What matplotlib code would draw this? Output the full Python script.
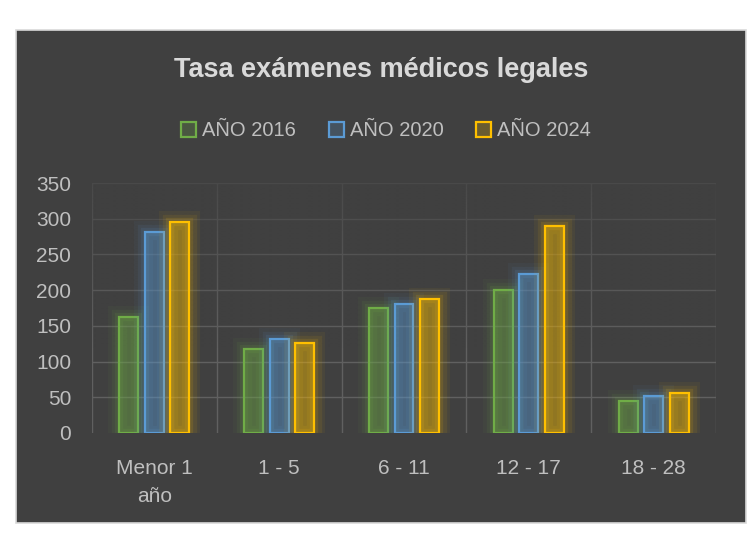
import numpy as np
import matplotlib.pyplot as plt
import matplotlib.patheffects as pe
from matplotlib.patches import Rectangle

# data
categories = ["Menor 1\naño", "1 - 5", "6 - 11", "12 - 17", "18 - 28"]
series_names = ["AÑO 2016", "AÑO 2020", "AÑO 2024"]
vals_2016 = [163, 117, 175, 200, 45]
vals_2020 = [281, 132, 181, 223, 52]
vals_2024 = [296, 126, 188, 290, 56]
colors = ["#70AD47", "#5B9BD5", "#FFC000"]

panel_bg = "#404040"
grid_c = "#606060"
text_c = "#D9D9D9"
tick_c = "#BFBFBF"

plt.rcParams['font.family'] = ['Liberation Sans', 'DejaVu Sans']

W, H = 756, 536
fig = plt.figure(figsize=(W / 100, H / 100), dpi=100, facecolor="white")

# dark chart panel with thin light border
fig.add_artist(Rectangle((16 / W, 1 - 523 / H), 730 / W, 493 / H,
                         transform=fig.transFigure, facecolor=panel_bg,
                         edgecolor="#D9D9D9", linewidth=1.2, zorder=-10))

ax = fig.add_axes([92 / W, 1 - 433 / H, 624 / W, 250 / H])
ax.set_facecolor("none")
ax.set_zorder(1)

x = np.arange(len(categories))
bw = 0.152
step = 0.204
all_vals = [vals_2016, vals_2020, vals_2024]

for i, (vals, c, name) in enumerate(zip(all_vals, colors, series_names)):
    bars = ax.bar(x + (i - 1) * step, vals, width=bw, facecolor=c + "38",
                  edgecolor=c, linewidth=1.6, label=name, zorder=3)
    for b in bars:
        b.set_path_effects([
            pe.Stroke(linewidth=16, foreground=c, alpha=0.05),
            pe.Stroke(linewidth=11, foreground=c, alpha=0.08),
            pe.Stroke(linewidth=6, foreground=c, alpha=0.12),
            pe.Normal(),
        ])

ax.set_xticks(x)
ax.set_xticklabels(categories)
ax.set_yticks(np.arange(0, 351, 50))

# grid: horizontal lines (no line at 0) and vertical category separators
for yv in np.arange(50, 351, 50):
    ax.axhline(yv, color=grid_c, linewidth=1.0, zorder=1)
for xv in np.arange(-0.5, 4.6, 1):
    ax.axvline(xv, color=grid_c, linewidth=1.0, zorder=1)

# fade the grid toward the bottom like the original
fade = np.zeros((100, 1, 4))
fade[..., :3] = np.array([0x40, 0x40, 0x40]) / 255
fade[:, 0, 3] = np.clip(np.linspace(-0.35, 0.7, 100), 0, None)
ax.imshow(fade, extent=(-0.5, 4.5, 350, 0), aspect="auto", zorder=2,
          interpolation="bilinear")
ax.set_ylim(0, 350)
ax.set_xlim(-0.5, 4.5)

for s in ax.spines.values():
    s.set_visible(False)
ax.tick_params(axis="both", which="both", length=0)
ax.tick_params(axis="y", labelsize=15, labelcolor=tick_c, pad=15)
ax.tick_params(axis="x", labelsize=15, labelcolor=tick_c, pad=19)
for lab in ax.get_xticklabels():
    lab.set_linespacing(1.6)

fig.text(381 / W, 1 - 70 / H, "Tasa exámenes médicos legales",
         ha="center", va="center", fontsize=19.5, fontweight="bold", color=text_c)

leg = fig.legend(loc="center", bbox_to_anchor=(386 / W, 1 - 131 / H), ncol=3,
                 frameon=False, fontsize=14.5, labelcolor=tick_c,
                 handlelength=0.75, handleheight=0.75, handletextpad=0.3,
                 columnspacing=1.6)
for h in leg.legend_handles:
    h.set_path_effects([])
    h.set_linewidth(1.6)

fig.savefig("out.png", dpi=100, facecolor="white")
